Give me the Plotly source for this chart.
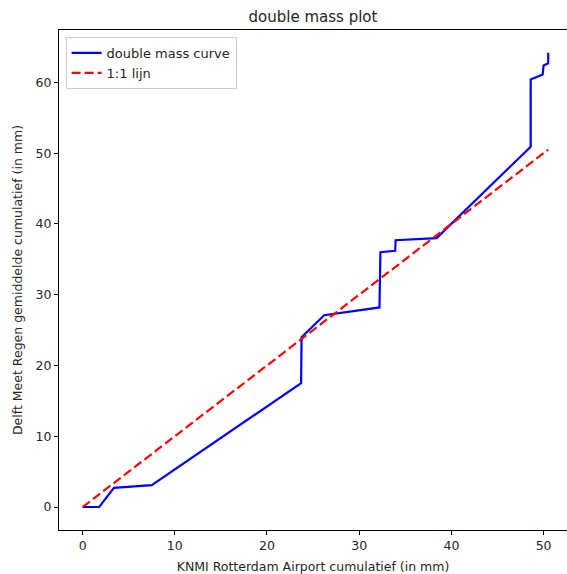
import plotly.graph_objects as go

knmi_cum = [0, 1.8, 3.4, 7.5, 23.7, 23.75, 26.2, 32.2, 32.3, 33.9, 33.95, 38.4, 48.6, 48.6, 49.9, 50.0, 50.5, 50.5]
delft_cum = [0, 0, 2.7, 3.1, 17.5, 24.0, 27.1, 28.2, 36.0, 36.2, 37.7, 38.0, 50.9, 60.4, 61.1, 62.4, 62.7, 64.2]
line_x = [0, 50.5]
line_y = [0, 50.5]

font = "DejaVu Sans, sans-serif"
fig = go.Figure()
fig.add_trace(go.Scatter(x=knmi_cum, y=delft_cum, mode="lines", name="double mass curve",
                         line=dict(color="blue", width=2.2)))
fig.add_trace(go.Scatter(x=line_x, y=line_y, mode="lines", name="1:1 lijn",
                         line=dict(color="red", width=2.2, dash="9px,4px")))

axis_common = dict(showgrid=False, zeroline=False, showline=True, linecolor="black", linewidth=1,
                   ticks="outside", ticklen=4, tickcolor="black",
                   tickfont=dict(family=font, size=12.5, color="#262626"))
fig.update_layout(
    width=567, height=574,
    margin=dict(l=59, r=0, t=30, b=44),
    paper_bgcolor="white", plot_bgcolor="white",
    title=dict(text="double mass plot", xref="paper", x=0.5, xanchor="center", y=0.97, yanchor="middle",
               font=dict(family=font, size=15, color="#262626")),
    xaxis=dict(range=[-2.56, 52.54], tickvals=[0, 10, 20, 30, 40, 50], mirror=True,
               title=dict(text="KNMI Rotterdam Airport cumulatief (in mm)", standoff=13,
                          font=dict(family=font, size=12.5, color="#262626")), **axis_common),
    yaxis=dict(range=[-3.25, 67.4], tickvals=[0, 10, 20, 30, 40, 50, 60], mirror=False,
               title=dict(text="Delft Meet Regen gemiddelde cumulatief (in mm)", standoff=10,
                          font=dict(family=font, size=12.5, color="#262626")), **axis_common),
    legend=dict(x=0.013, y=0.986, xanchor="left", yanchor="top", bgcolor="white",
                bordercolor="#ccc", borderwidth=1, font=dict(family=font, size=13, color="#262626"),
                tracegroupgap=0),
    showlegend=True,
)
fig.write_html("out.html")
